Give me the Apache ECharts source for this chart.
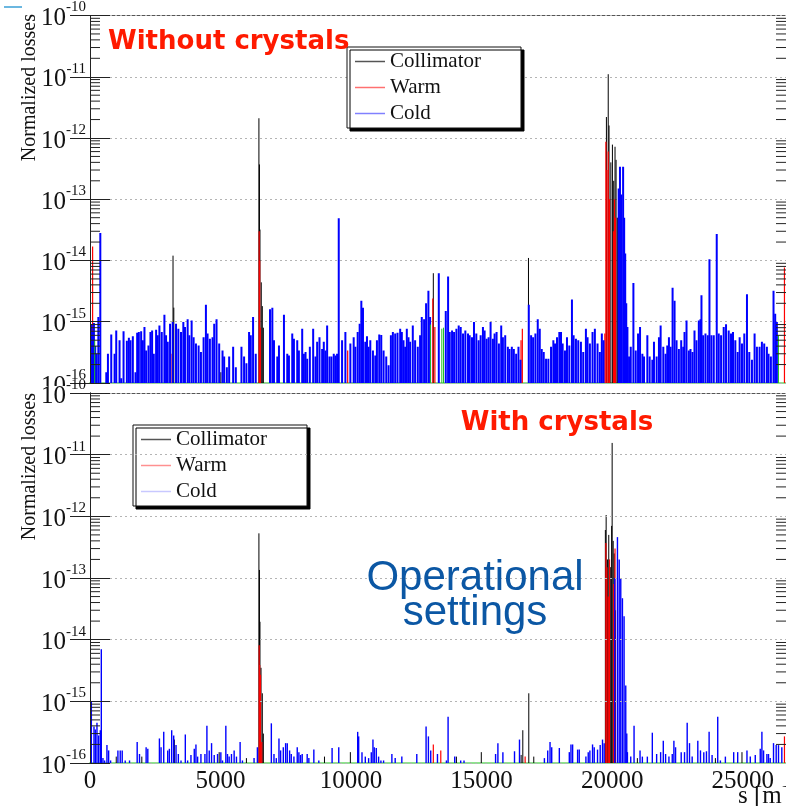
<!DOCTYPE html>
<html>
<head>
<meta charset="utf-8">
<script src="https://cdn.jsdelivr.net/npm/echarts@6/dist/echarts.min.js"></script>
<style>
  html, body { margin: 0; padding: 0; background: #fff; }
  #chart { width: 786px; height: 806px; }
</style>
</head>
<body>
<div id="chart"></div>
<script>
// s [m] ring position, normalized losses per bin
var S_MAX = 26659;
var Y_MIN = 1e-16, Y_MAX = 1e-10;

// minor tick multipliers for the log axis (2..9 x decade)
var minorMult = [2, 3, 4, 5, 6, 7, 8, 9];
var decades = [1e-16, 1e-15, 1e-14, 1e-13, 1e-12, 1e-11];
var xTicks = [0, 5000, 10000, 15000, 20000, 25000];

// ---------- without crystals ----------
var collTop = [
  [3180, 1.2e-14], [3210, 1.7e-15], [5012, 1.5e-16], [6470, 2.1e-12], [6490, 3.7e-13], [6510, 3.2e-14],
  [6560, 4.4e-15], [6600, 1.8e-15], [6640, 8e-16], [13150, 6.2e-15], [16795, 1.1e-14],
  [19780, 2.2e-12], [19850, 1.1e-11], [19880, 1.6e-12], [19950, 4e-13], [20010, 7.8e-13],
  [20060, 2e-13], [20110, 7.2e-13], [20150, 4.4e-13], [20200, 5e-14]
];
var warmTop = [
  [100, 1.7e-14], [3100, 3e-16], [6480, 3e-14], [6500, 1e-14], [6525, 8e-16], [9870, 3.4e-16],
  [13130, 2.4e-15], [13210, 8.2e-16], [16510, 5e-16], [16560, 7.7e-16], [19720, 6.4e-16],
  [19760, 8.7e-13], [19800, 3e-13], [19850, 6e-13], [19900, 1e-13], [20050, 3e-14],
  [20090, 1e-13], [20130, 5e-14], [26600, 7.7e-15]
];
var coldTop = [
  [30, 6e-16], [60, 9e-16], [110, 7e-16], [150, 9.5e-16], [200, 4e-16], [250, 3e-16], [320, 1.2e-15], [395, 2.8e-14],
  [624, 1.5e-16], [687, 3e-16], [814, 6.2e-16], [942, 3e-16], [1005, 7.2e-16], [1132, 5e-16], [1196, 1.2e-16],
  [1285, 7e-16], [1412, 4.9e-16], [1489, 5.5e-16], [1552, 5e-16], [1641, 5.8e-16], [1743, 1.5e-16], [1807, 6.6e-16],
  [1870, 6.8e-16], [1959, 7e-16], [2023, 5e-16], [2086, 8.2e-16], [2150, 3.4e-16], [2239, 4.1e-16], [2315, 6.8e-16],
  [2379, 7.2e-16], [2443, 3e-16], [2532, 7.4e-16], [2595, 6e-16], [2659, 8.7e-16], [2748, 6.8e-16], [2850, 1.3e-15],
  [2913, 6e-16], [2977, 4.7e-16], [3066, 9.3e-16], [3168, 9.9e-16], [3295, 9.3e-16], [3384, 7.7e-16], [3486, 6.8e-16],
  [3575, 9.9e-16], [3638, 8.2e-16], [3740, 1.1e-15], [3804, 6e-16], [3893, 1.05e-15], [3969, 5.6e-16], [4058, 4.4e-16],
  [4160, 4.1e-16], [4249, 3.2e-16], [4351, 5.6e-16], [4440, 1.9e-15], [4503, 6.4e-16], [4592, 5.3e-16], [4694, 5.6e-16],
  [4758, 9.3e-16], [4847, 1.1e-15], [4948, 4.4e-16], [5076, 3.4e-16], [5139, 2.7e-16], [5241, 1.8e-16], [5330, 2.7e-16],
  [5483, 3.9e-16], [5585, 1.8e-16], [5801, 3.9e-16], [5902, 2.7e-16], [5991, 2.1e-16], [6093, 6.8e-16], [6157, 6e-16],
  [6246, 1.2e-15], [6348, 3e-16],
  [6895, 1.6e-15], [6984, 1.7e-15], [7047, 5e-16], [7174, 2.7e-16], [7238, 4.1e-16], [7429, 1.3e-15], [7556, 3e-16],
  [7620, 2.8e-16], [7747, 6.4e-16], [7811, 5.3e-16], [7938, 5e-16], [8001, 3.4e-16], [8128, 7.7e-16], [8192, 3e-16],
  [8256, 3.2e-16], [8319, 2.5e-16], [8421, 3.9e-16], [8548, 7.7e-16], [8637, 2.7e-16], [8701, 4.7e-16], [8790, 5.6e-16],
  [8892, 3.6e-16], [8955, 4.7e-16], [9019, 3.4e-16], [9083, 8.7e-16], [9172, 2.7e-16], [9248, 2.7e-16], [9337, 3e-16],
  [9401, 2.8e-16], [9464, 3e-16], [9528, 4.9e-14], [9655, 5e-16], [9782, 6.8e-16], [9973, 4.4e-16], [10100, 5.6e-16],
  [10164, 3.9e-16], [10253, 6.8e-16], [10329, 9.3e-16], [10393, 2.2e-15], [10456, 1.7e-15], [10545, 4.7e-16],
  [10609, 5.8e-16], [10672, 3.9e-16], [10736, 5e-16], [10838, 3.4e-16], [10927, 2.8e-16], [10990, 5e-16],
  [11079, 6.2e-16], [11156, 6.1e-16], [11245, 3.4e-16], [11347, 2.7e-16], [11436, 1.95e-16], [11525, 6e-16],
  [11601, 6.8e-16], [11690, 6.4e-16], [11779, 6.6e-16], [11881, 7.7e-16], [11944, 6.8e-16], [12008, 5e-16],
  [12072, 3.9e-16], [12135, 7.7e-16], [12199, 5.6e-16], [12262, 4.7e-16], [12364, 8.7e-16], [12453, 5e-16],
  [12555, 3.9e-16], [12644, 6e-16], [12708, 1.2e-15], [12797, 1.1e-15], [12873, 2e-15], [12962, 3.2e-15], [13026, 1.2e-15],
  [13360, 6.2e-15], [13627, 1.5e-15], [13716, 5.5e-15], [13779, 6.8e-16], [13868, 7.2e-16], [13945, 6.8e-16],
  [14034, 7.7e-16], [14123, 8.7e-16], [14199, 8.2e-16], [14288, 6.4e-16], [14377, 7.2e-16], [14479, 6.4e-16],
  [14543, 6e-16], [14632, 5.6e-16], [14708, 9.9e-16], [14797, 6.4e-16], [14886, 5e-16], [14963, 6e-16],
  [15051, 8.2e-16], [15115, 7.2e-16], [15191, 5.3e-16], [15268, 5.6e-16], [15344, 9.9e-16], [15433, 5.3e-16],
  [15497, 6.4e-16], [15573, 6.8e-16], [15662, 4.4e-16], [15751, 8.7e-16], [15815, 5.6e-16], [15904, 6e-16],
  [16005, 3.9e-16], [16069, 3.6e-16], [16158, 3.9e-16], [16234, 3.6e-16], [16323, 3e-16], [16412, 3.9e-16],
  [16489, 2.4e-16], [16807, 1.9e-15], [16896, 6e-16], [16972, 5.6e-16], [17061, 6.4e-16], [17150, 1.1e-15],
  [17227, 7.7e-16], [17303, 3.6e-16], [17379, 3.2e-16], [17468, 2.5e-16], [17557, 2.5e-16], [17659, 3.9e-16],
  [17748, 5e-16], [17812, 4.4e-16], [17888, 5.6e-16], [17977, 6.8e-16], [18041, 6.8e-16], [18104, 4.4e-16],
  [18193, 3.4e-16], [18270, 5.6e-16], [18359, 4.1e-16], [18460, 2.3e-15], [18524, 6e-16], [18613, 5.3e-16],
  [18702, 5e-16], [18804, 4.7e-16], [18893, 3.2e-16], [18995, 7.7e-16], [19058, 5.6e-16], [19147, 4.4e-16],
  [19249, 6.8e-16], [19338, 7.7e-16], [19440, 4.4e-16], [19529, 3.2e-16], [19605, 6.4e-16], [19669, 5e-16],
  [20250, 1.5e-13], [20300, 3.4e-13], [20350, 1.2e-13], [20420, 3.4e-13], [20460, 5e-14], [20500, 1.3e-14], [20540, 2e-15],
  [20585, 8.2e-16], [20648, 2.7e-16], [20712, 3.9e-16], [20814, 4.3e-15], [20903, 3.4e-16], [20992, 6.4e-16],
  [21068, 8.2e-16], [21157, 3e-16], [21221, 2.7e-16], [21348, 6e-16], [21437, 2.7e-16], [21539, 2.4e-16],
  [21602, 4.7e-16], [21704, 2.7e-16], [21793, 5.6e-16], [21857, 8.7e-16], [21959, 3.9e-16], [22047, 3e-16],
  [22111, 4.1e-16], [22175, 5.6e-16], [22238, 3.9e-16], [22315, 3.6e-15], [22391, 2.2e-15], [22467, 5e-16],
  [22556, 3.6e-16], [22645, 5e-16], [22722, 3.9e-16], [22772, 6.8e-16], [22849, 1.05e-15], [22938, 3.4e-16],
  [23001, 3.6e-16], [23078, 3.2e-16], [23154, 7.2e-16], [23230, 5e-16], [23320, 1.05e-15], [23383, 1.1e-15],
  [23421, 2.7e-15], [23485, 6e-16], [23574, 6.4e-16], [23663, 6e-16], [23727, 1.05e-14], [23803, 6e-16],
  [23892, 6e-16], [24006, 2.7e-14], [24083, 6.4e-16], [24172, 6e-16], [24273, 8.2e-16], [24362, 9.1e-16],
  [24464, 7.2e-16], [24553, 6.4e-16], [24629, 6.8e-16], [24718, 5e-16], [24808, 3.2e-16], [24884, 5.6e-16],
  [24973, 4.4e-16], [25062, 6.4e-16], [25164, 2.8e-15], [25253, 3.2e-16], [25355, 2.4e-16], [25456, 6.4e-16],
  [25545, 3.9e-16], [25647, 3.9e-16], [25736, 4.7e-16], [25825, 4.4e-16], [25927, 3.9e-16], [25990, 3e-16],
  [26080, 2.7e-16], [26181, 3.2e-15], [26245, 1.35e-15], [26309, 9.9e-16]
];
var otherTop = [[180, 5e-16], [13040, 9e-16], [13475, 7.7e-16], [13540, 8e-16], [26370, 6e-16]];

// ---------- with crystals ----------
var collBot = [
  [1005, 1.27e-16], [1985, 1.27e-16], [3231, 2.4e-16], [4948, 1.5e-16], [5991, 1.2e-16],
  [6470, 5.3e-13], [6490, 1.35e-13], [6510, 1.95e-14], [6550, 3.5e-15], [6600, 1.35e-15], [6640, 3e-16],
  [8981, 1.27e-16], [9973, 1.5e-16], [14034, 1.27e-16], [14988, 1.5e-16], [16514, 1.35e-16], [16578, 3.4e-16],
  [16807, 1.35e-15], [16998, 1.27e-16],
  [19740, 6e-13], [19770, 1.05e-12], [19820, 2e-13], [19870, 5e-13], [19930, 1.5e-13], [19980, 7e-13],
  [20000, 1.55e-11], [20040, 4e-13], [20080, 2.5e-13], [20130, 3e-14],
  [20966, 1.2e-16], [23955, 1.2e-16], [24973, 1.5e-16]
];
var warmBot = [
  [6480, 8.1e-15], [6500, 3.9e-15], [6530, 2.7e-15], [6580, 2.2e-16], [13150, 2e-16], [13436, 1.6e-16],
  [16667, 1.27e-16], [19760, 3.7e-13], [19800, 1.5e-13], [19850, 5e-14], [19900, 2e-13], [20060, 8e-14],
  [20110, 3e-13], [26600, 2.7e-16]
];
var coldBot = [
  [20, 1.4e-16], [51, 9.9e-16], [153, 3.9e-16], [204, 3.5e-16], [267, 4.5e-16], [331, 2.8e-16], [395, 3.4e-16],
  [433, 7e-15], [496, 1.2e-16], [560, 1.1e-16], [649, 1.95e-16], [713, 1.6e-16], [789, 1.1e-16], [1069, 1.6e-16],
  [1158, 1.6e-16], [1234, 1.6e-16], [1349, 1.1e-16], [1514, 1.1e-16], [1807, 2.2e-16], [1896, 1.4e-16],
  [2150, 1.8e-16], [2214, 1.7e-16], [2659, 2.5e-16], [2722, 1.8e-16], [2824, 3.2e-16], [2977, 1.6e-16],
  [3040, 1.7e-16], [3129, 3.4e-16], [3206, 2.8e-16], [3295, 1.95e-16], [3384, 1.4e-16], [3486, 1.1e-16],
  [3651, 2.9e-16], [3740, 1.1e-16], [3867, 1.35e-16], [3994, 1.7e-16], [4058, 2e-16], [4122, 1.27e-16],
  [4249, 1.4e-16], [4402, 1.4e-16], [4478, 4e-16], [4567, 1.6e-16], [4656, 2.1e-16], [4758, 1.35e-16],
  [4885, 1.4e-16], [5012, 1.5e-16], [5076, 1.1e-16], [5203, 4e-16], [5266, 1.4e-16], [5330, 1.27e-16],
  [5419, 1.4e-16], [5521, 1.6e-16], [5610, 1.27e-16], [5750, 2.2e-16], [5839, 1.1e-16], [6284, 1.2e-16],
  [6411, 1.8e-16], [6946, 4.4e-16], [7047, 1.4e-16], [7136, 1.2e-16], [7238, 2.5e-16], [7302, 1.6e-16],
  [7404, 1.8e-16], [7493, 2.1e-16], [7556, 2.1e-16], [7645, 1.6e-16], [7709, 1.4e-16], [7811, 1.27e-16],
  [7938, 1.8e-16], [8001, 1.5e-16], [8065, 1.35e-16], [8128, 1.4e-16], [8319, 1.4e-16], [8383, 1.2e-16],
  [8574, 1.65e-16], [8764, 1.1e-16], [9273, 1.75e-16], [9528, 1.8e-16], [10253, 3.2e-16], [10291, 2.7e-16],
  [10418, 1.5e-16], [10545, 1.27e-16], [10672, 1.2e-16], [10774, 1.5e-16], [10838, 2.4e-16], [10888, 1.8e-16],
  [10965, 1.75e-16], [11054, 1.27e-16], [11143, 1.1e-16], [11245, 1.1e-16], [11563, 1.4e-16], [11690, 1.2e-16],
  [11944, 1.27e-16], [12517, 1.4e-16], [12873, 3.9e-16], [12962, 2.7e-16], [13051, 1.6e-16],
  [13309, 1.4e-16], [13652, 1.1e-16], [13716, 5.6e-16], [13970, 1.27e-16], [14199, 1.1e-16], [14326, 1.1e-16],
  [15535, 1.4e-16], [15624, 2.1e-16], [15815, 1.5e-16], [16260, 1.55e-16], [16451, 2.4e-16], [17405, 1.2e-16],
  [17532, 1.6e-16], [17621, 2.2e-16], [17685, 1.8e-16], [17977, 1.75e-16], [18359, 1.5e-16], [18422, 2e-16],
  [18486, 2e-16], [18677, 1.65e-16], [18740, 1.65e-16], [18995, 1.27e-16], [19084, 1.5e-16], [19147, 1.6e-16],
  [19249, 2e-16], [19313, 1.8e-16], [19440, 1.65e-16], [19542, 1.95e-16], [19631, 2.4e-16], [19694, 2.1e-16],
  [20100, 1e-13], [20203, 4.6e-13], [20270, 2e-13], [20330, 1e-13], [20394, 4.7e-14], [20457, 2.4e-14],
  [20521, 1.8e-15], [20560, 3e-16],
  [20585, 1.5e-16], [20712, 1.27e-16], [20839, 4e-16], [21068, 1.6e-16], [21157, 1.27e-16], [21348, 1.27e-16],
  [21539, 3.1e-16], [21704, 1.4e-16], [21857, 1.5e-16], [21959, 2.3e-16], [22047, 1.4e-16], [22175, 1.27e-16],
  [22302, 1.4e-16], [22365, 2.3e-16], [22429, 1.8e-16], [22645, 1.5e-16], [22772, 1.5e-16], [22874, 4.5e-16],
  [22963, 2.1e-16], [23065, 1.27e-16], [23281, 2.3e-16], [23383, 1.6e-16], [23510, 1.5e-16], [23612, 1.55e-16],
  [23714, 3.2e-16], [23828, 1.35e-16], [24044, 5.6e-16], [24146, 1.1e-16], [24337, 1.27e-16], [24655, 1.5e-16],
  [24808, 1.5e-16], [25164, 1.6e-16], [25291, 1.27e-16], [25482, 1.35e-16], [25673, 1.7e-16], [25736, 3.2e-16],
  [25800, 1.6e-16], [25927, 1.4e-16], [25990, 1.4e-16], [26054, 1.2e-16], [26181, 2.1e-16], [26283, 1.95e-16],
  [26372, 1.95e-16], [26499, 1.8e-16]
];

var minorTicks = [];
decades.forEach(function (d) {
  minorMult.forEach(function (m) { minorTicks.push(m * d); });
});

var SERIF = 'Liberation Serif';

// one thin vertical line per bin, from the axis floor to the bin value
function spikeRenderer(width) {
  return function (params, api) {
    var top = api.coord([api.value(0), api.value(1)]);
    var base = api.coord([api.value(0), Y_MIN]);
    return {
      type: 'line',
      shape: { x1: top[0], y1: base[1], x2: top[0], y2: top[1] },
      style: { stroke: api.visual('color'), lineWidth: width }
    };
  };
}

// log minor ticks on both sides of the frame
function renderMinor(params, api) {
  var p = api.coord([0, api.value(0)]);
  var cs = params.coordSys;
  return {
    type: 'group',
    children: [
      { type: 'line', shape: { x1: cs.x, y1: p[1], x2: cs.x + 10, y2: p[1] }, style: { stroke: '#222', lineWidth: 1 } },
      { type: 'line', shape: { x1: cs.x + cs.width - 10, y1: p[1], x2: cs.x + cs.width, y2: p[1] }, style: { stroke: '#222', lineWidth: 1 } }
    ]
  };
}

function spikes(name, data, color, g, width) {
  return {
    type: 'custom', name: name, xAxisIndex: g, yAxisIndex: g * 2,
    data: data, renderItem: spikeRenderer(width || 1), itemStyle: { color: color },
    clip: true, silent: true, animation: false
  };
}

function yLeft(g, showLabel) {
  return {
    type: 'log', gridIndex: g, position: 'left', min: Y_MIN, max: Y_MAX, logBase: 10, splitNumber: 6,
    z: g === 1 ? 10 : 2,
    axisLine: { show: true, lineStyle: { color: '#222', width: 1 } },
    axisTick: { show: true, inside: true, length: 20, lineStyle: { color: '#222' } },
    axisLabel: {
      show: showLabel, margin: 4,
      formatter: function (v) { return '{b|10}{s|' + Math.round(Math.log10(v)) + '}'; },
      rich: {
        b: { fontFamily: SERIF, fontSize: 25, color: '#111', padding: [6, 0, 0, 0] },
        s: { fontFamily: SERIF, fontSize: 15, color: '#111', verticalAlign: 'top' }
      }
    },
    splitLine: { show: true, lineStyle: { color: '#b4b4b4', type: [2, 3], width: 1 } }
  };
}
function yRight(g) {
  return {
    type: 'log', gridIndex: g, position: 'right', min: Y_MIN, max: Y_MAX, logBase: 10, splitNumber: 6,
    axisLine: { show: true, lineStyle: { color: '#222' } },
    axisTick: { show: true, inside: true, length: 20, lineStyle: { color: '#222' } },
    axisLabel: { show: false }, splitLine: { show: false }
  };
}
function xBottom(g, showLabel) {
  return {
    type: 'value', gridIndex: g, position: 'bottom', min: 0, max: S_MAX, interval: 5000,
    axisLine: { show: true, onZero: false, lineStyle: { color: '#8fe08f', width: 2 } },
    axisTick: { show: false }, splitLine: { show: false },
    axisLabel: {
      show: showLabel, showMaxLabel: false, margin: 6,
      fontFamily: SERIF, fontSize: 25, color: '#111',
      formatter: function (v) { return String(v); }
    }
  };
}
function xTop(g) {
  return {
    type: 'value', gridIndex: g, position: 'top', min: 0, max: S_MAX,
    axisLine: { show: true, onZero: false, lineStyle: { color: '#555' } },
    axisTick: { show: false }, axisLabel: { show: false }, splitLine: { show: false }
  };
}

function legendBox(left, top, cold, warm) {
  return {
    left: left, top: top, orient: 'vertical', icon: 'rect',
    itemWidth: 30, itemHeight: 1.5, itemGap: 5,
    padding: [4, 40, 4, 8],
    backgroundColor: '#fff', borderColor: '#111', borderWidth: 1,
    shadowColor: '#000', shadowBlur: 0, shadowOffsetX: 3, shadowOffsetY: 3,
    textStyle: { fontFamily: SERIF, fontSize: 21, color: '#111' },
    selectedMode: false,
    data: [
      { name: 'Collimator', itemStyle: { color: '#555' } },
      { name: 'Warm', itemStyle: { color: warm } },
      { name: 'Cold', itemStyle: { color: cold } }
    ]
  };
}

var chart = echarts.init(document.getElementById('chart'), null, { renderer: 'canvas' });

var option = {
  backgroundColor: '#fff',
  animation: false,
  grid: [
    { left: 90, top: 13, right: -2, height: 370 },
    { left: 90, top: 393, right: -2, height: 370 }
  ],
  xAxis: [xBottom(0, false), xBottom(1, true), xTop(0), xTop(1)],
  yAxis: [yLeft(0, true), yRight(0), yLeft(1, true), yRight(1)],
  legend: [legendBox(347, 47, '#8080ff', '#ff7070'), legendBox(133, 425, '#c8c8ff', '#ff9090')],
  series: [
    spikes('Collimator', collTop, '#000', 0, 1),
    spikes('Warm', warmTop, '#ff0000', 0, 1.2),
    spikes('Cold', coldTop, '#0000ff', 0, 2),
    spikes('Other', otherTop, '#22c022', 0, 1),
    { type: 'custom', xAxisIndex: 0, yAxisIndex: 0, data: minorTicks, renderItem: renderMinor, silent: true, clip: false },
    spikes('Collimator', collBot, '#000', 1, 1),
    spikes('Warm', warmBot, '#ff0000', 1, 1.2),
    spikes('Cold', coldBot, '#0000ff', 1, 1.4),
    { type: 'custom', xAxisIndex: 1, yAxisIndex: 2, data: minorTicks, renderItem: renderMinor, silent: true, clip: false }
  ],
  graphic: [
    { type: 'line', shape: { x1: 4, y1: 7, x2: 22, y2: 7 }, style: { stroke: '#3a9fd6', lineWidth: 1.5 } },
    // bottom pad hides the lower edge of the upper pad
    { type: 'rect', z: 5, shape: { x: 0, y: 386, width: 89, height: 7 }, style: { fill: '#fff' } },
    {
      type: 'text', z: 20, x: 30, y: 14, rotation: Math.PI / 2,
      style: { text: 'Normalized losses', font: '20px "Liberation Serif"', fill: '#111', align: 'right', verticalAlign: 'middle' }
    },
    {
      type: 'text', z: 20, x: 30, y: 393, rotation: Math.PI / 2,
      style: { text: 'Normalized losses', font: '20px "Liberation Serif"', fill: '#111', align: 'right', verticalAlign: 'middle' }
    },
    {
      type: 'text', z: 20, x: 108, y: 42,
      style: { text: 'Without crystals', font: 'bold 26px "DejaVu Sans"', fill: '#ff1a00', align: 'left', verticalAlign: 'middle' }
    },
    {
      type: 'text', z: 20, x: 557, y: 423,
      style: { text: 'With crystals', font: 'bold 26px "DejaVu Sans"', fill: '#ff1a00', align: 'center', verticalAlign: 'middle' }
    },
    {
      type: 'text', z: 20, x: 475, y: 596,
      style: {
        text: 'Operational\nsettings', font: '42px "Liberation Sans"', fill: '#0b57a4',
        align: 'center', verticalAlign: 'middle', lineHeight: 35
      }
    },
    {
      type: 'text', z: 20, x: 790, y: 796,
      style: { text: 's [m]', font: '25px "Liberation Serif"', fill: '#111', align: 'right', verticalAlign: 'middle' }
    }
  ]
};

chart.setOption(option);
</script>
</body>
</html>
